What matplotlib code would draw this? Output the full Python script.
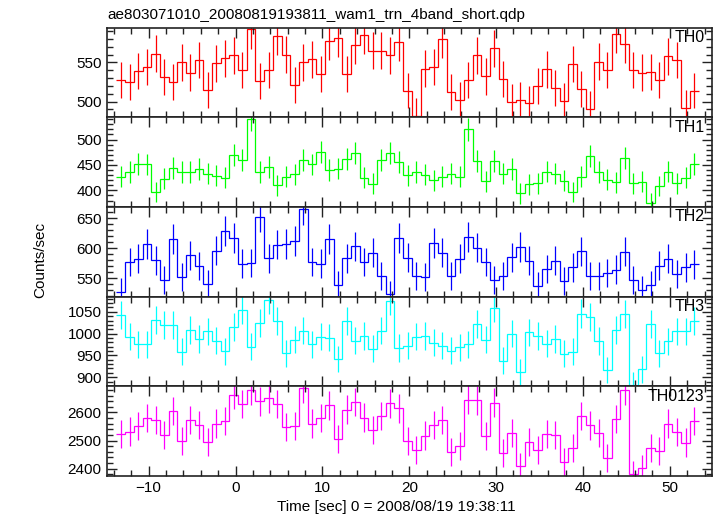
import numpy as np
import matplotlib
matplotlib.use('Agg')
import matplotlib.pyplot as plt
from matplotlib.ticker import MultipleLocator

plt.rcParams['font.family'] = ['Liberation Sans', 'DejaVu Sans']
plt.rcParams['font.size'] = 11

#-------------------- data (counts/sec, 1 s bins) --------------------
t_start = -13.2
bin_w = 1.0

th0 = [527, 525, 539, 544, 561, 531, 525, 550, 537, 553, 515, 549, 555, 559, 540, 592,
       526, 540, 584, 560, 521, 550, 554, 535, 577, 581, 535, 572, 585, 565, 565, 559,
       576, 514, 482, 542, 544, 580, 512, 502, 528, 559, 532, 568, 529, 500, 502, 498,
       520, 541, 517, 501, 548, 516, 491, 551, 540, 586, 573, 540, 537, 538, 528, 558,
       553, 492, 514]
th1 = [427, 436, 452, 451, 397, 423, 444, 436, 436, 442, 433, 429, 425, 469, 460, 540,
       436, 446, 410, 427, 432, 460, 451, 476, 440, 443, 462, 473, 425, 413, 460, 473,
       456, 430, 436, 431, 420, 427, 433, 427, 520, 458, 418, 458, 433, 442, 394, 412,
       414, 437, 433, 419, 397, 427, 468, 436, 421, 416, 464, 414, 417, 375, 409, 437,
       414, 425, 452]
th2 = [527, 577, 582, 607, 580, 547, 615, 552, 588, 570, 540, 596, 628, 617, 574, 575,
       652, 583, 606, 607, 612, 665, 577, 574, 615, 538, 583, 603, 577, 592, 553, 523,
       617, 584, 554, 552, 609, 592, 553, 582, 619, 601, 577, 546, 553, 585, 602, 579,
       537, 565, 579, 545, 568, 595, 553, 554, 559, 564, 594, 546, 530, 539, 571, 582,
       557, 568, 573]
th3 = [1042, 993, 975, 975, 1032, 1020, 1020, 958, 1009, 988, 1005, 984, 960, 1015, 1055, 970,
       1024, 1078, 1028, 955, 986, 1007, 975, 993, 991, 942, 1028, 984, 995, 965, 1007, 1075,
       967, 972, 993, 995, 979, 972, 961, 969, 975, 1023, 986, 1059, 938, 1000, 912, 1003,
       995, 977, 988, 954, 958, 1046, 1039, 983, 917, 1008, 1045, 882, 918, 1023, 955, 982,
       1005, 1005, 1029]
th0123 = [2524, 2532, 2551, 2580, 2573, 2520, 2605, 2498, 2573, 2556, 2494, 2560, 2570, 2663, 2630, 2680,
          2639, 2651, 2630, 2548, 2551, 2687, 2560, 2580, 2626, 2505, 2610, 2637, 2582, 2537, 2587, 2633,
          2615, 2500, 2465, 2518, 2556, 2573, 2458, 2481, 2645, 2643, 2515, 2635, 2456, 2527, 2408, 2494,
          2465, 2523, 2519, 2424, 2473, 2588, 2554, 2527, 2437, 2576, 2679, 2380, 2401, 2473, 2463, 2560,
          2531, 2493, 2569]

names = ['TH0', 'TH1', 'TH2', 'TH3', 'TH0123']
colors = ['#ff0000', '#00ff00', '#0000ff', '#00ffff', '#ff00ff']
ylims = [(480, 594.5), (367.5, 544), (519, 669), (879, 1085), (2374, 2693)]
ymajor = [50, 50, 50, 50, 100]
yminor = [10, 10, 10, 10, 20]

series = [th0, th1, th2, th3, th0123]

fig = plt.figure(figsize=(7.17, 5.16), dpi=100)
left, right = 106.5 / 717, 712 / 717
top, bottom = 1 - 27.5 / 516, 1 - 476 / 516
h = (top - bottom) / 5

n = len(th0)
t = t_start + bin_w * np.arange(n)
edges = np.append(t - bin_w / 2, t[-1] + bin_w / 2)

axes = []
for i in range(5):
    ax = fig.add_axes([left, top - (i + 1) * h, right - left, h])
    y = np.array(series[i], dtype=float)
    err = np.sqrt(y)  # poisson errors
    ax.stairs(y, edges, color=colors[i], linewidth=0.9, baseline=None)
    ax.errorbar(t, y, yerr=err, fmt='none', ecolor=colors[i], elinewidth=0.9)
    ax.set_xlim(-14.85, 54.85)
    ax.set_ylim(*ylims[i])
    ax.xaxis.set_major_locator(MultipleLocator(10))
    ax.xaxis.set_minor_locator(MultipleLocator(2))
    ax.yaxis.set_major_locator(MultipleLocator(ymajor[i]))
    ax.yaxis.set_minor_locator(MultipleLocator(yminor[i]))
    ax.tick_params(which='both', direction='in', top=True, right=True, width=1.0,
                   colors='#222222', labelcolor='black', labelsize=11)
    ax.tick_params(which='major', length=7)
    ax.tick_params(which='minor', length=4)
    for sp in ax.spines.values():
        sp.set_linewidth(1.2)
        sp.set_color('#222222')
    if i < 4:
        ax.tick_params(labelbottom=False)
    ax.text(0.988, 0.89, names[i], transform=ax.transAxes, ha='right', va='center', fontsize=11.5)
    axes.append(ax)

fig.text(277 / 717, 1 - 506.5 / 516, 'Time [sec] 0 = 2008/08/19 19:38:11', ha='left', va='center')
fig.text(40.7 / 717, 1 - 260 / 516, 'Counts/sec', rotation=90, ha='center', va='center')
fig.text(107 / 717, 1 - 15 / 516, 'ae803071010_20080819193811_wam1_trn_4band_short.qdp',
         ha='left', va='center')

fig.savefig('out.png', dpi=100)
